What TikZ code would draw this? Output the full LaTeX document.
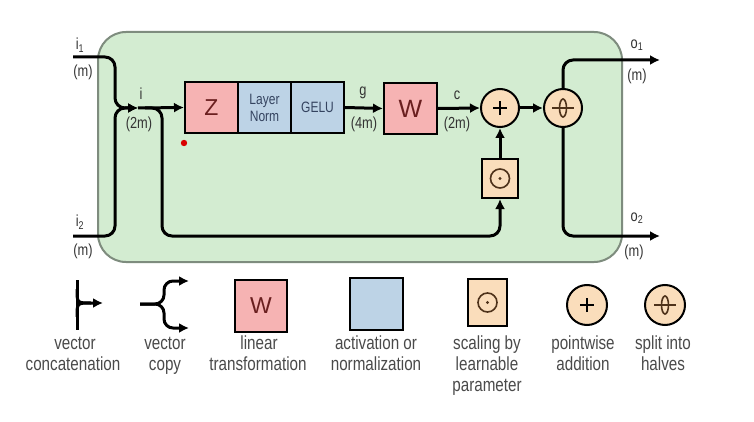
\documentclass[tikz,border=0pt]{standalone}
\usepackage{fontspec}
\setmainfont[FakeStretch=0.8]{Liberation Sans}
\newfontfamily\letterfont{Liberation Sans}
\usetikzlibrary{arrows.meta}
\definecolor{bggreen}{HTML}{D3ECD1}
\definecolor{bgborder}{HTML}{7E8C7E}
\definecolor{pinkfill}{HTML}{F6B3B3}
\definecolor{bluefill}{HTML}{BDD3E6}
\definecolor{beige}{HTML}{FADDBB}
\definecolor{lettred}{HTML}{6A1F1F}
\definecolor{lettblue}{HTML}{34435F}
\definecolor{symbrown}{HTML}{4E321A}
\definecolor{labgray}{HTML}{333333}
\definecolor{leggray}{HTML}{4A4A4A}
\begin{document}
\begin{tikzpicture}[x=1pt,y=-1pt,
  conn/.style={line width=3pt, draw=black, rounded corners=10pt},
  arr/.style={conn, -{Latex[length=10pt,width=10pt]}},
  boxstyle/.style={draw=black, line width=2pt, inner sep=0pt},
  linbox/.style={boxstyle, fill=pinkfill, minimum width=53pt, minimum height=51pt,
     text=lettred, font=\letterfont\fontsize{23}{25}\selectfont},
  actbox/.style={boxstyle, fill=bluefill, minimum width=53pt, minimum height=51pt,
     text=lettblue, align=center, font=\fontsize{15}{17}\selectfont},
  opcirc/.style={circle, draw=black, line width=2pt, fill=beige, minimum size=38pt, inner sep=0pt},
  scbox/.style={boxstyle, fill=beige, minimum width=36pt, minimum height=39pt},
  lab/.style={text=labgray, font=\fontsize{16}{17}\selectfont, inner sep=0pt},
  legtext/.style={text=leggray, font=\fontsize{19}{20}\selectfont, inner sep=0pt, anchor=base},
  symline/.style={draw=symbrown, line width=1.6pt}
]
\useasboundingbox (0,0) rectangle (754,422);
\fill[white] (0,0) rectangle (754,422);

% background block
\draw[fill=bggreen, draw=bgborder, line width=2pt, rounded corners=28pt]
  (98,32) rectangle (622,262);

% red dot
\fill[red!85!black] (184,143) circle (3.2pt);

% nodes
\node[linbox] (Z) at (211.5,107.5) {Z};
\node[actbox] (LN) at (264.5,107.5) {Layer\\Norm};
\node[actbox] (GELU) at (317.5,107.5) {GELU};
\node[linbox, font=\letterfont\fontsize{25}{27}\selectfont] (W) at (410.5,108.5) {W};
\node[opcirc] (plus) at (500,108) {};
\node[opcirc] (split) at (563,108) {};
\node[scbox] (scale) at (500,178.5) {};

% symbols inside
\draw[line width=2.6pt, draw=black] ([xshift=-7pt]plus.center) -- ([xshift=7pt]plus.center);
\draw[line width=2.6pt, draw=black] ([yshift=-7pt]plus.center) -- ([yshift=7pt]plus.center);
\draw[symline] ([xshift=-11pt]split.center) -- ([xshift=11pt]split.center);
\draw[symline] (split.center) ellipse [x radius=3.5pt, y radius=9pt];
\draw[symline] (scale.center) circle (9.5pt);
\fill[symbrown] (scale.center) circle (1.6pt);

% coordinates
\coordinate (i1) at (73,57);
\coordinate (i2) at (73,236);
\coordinate (jn) at (138,108);
\coordinate (br) at (162,108);
\coordinate (o1) at (660,60);
\coordinate (o2) at (660,236);

% connectors
\draw[arr] (i1) -- (115,57) -- (115,108) -- (jn);
\draw[arr] (i2) -- (115,236) -- (115,108) -- (jn);
\draw[arr] (jn) -- (Z.west);
\draw[arr] (145,108) -- (br) -- (162,236) -| (scale.south);
\draw[arr] (GELU.east) -- (W.west);
\draw[arr] (W.east) -- (plus.west);
\draw[arr] (plus.east) -- (split.west);
\draw[arr] (scale.north) -- (plus.south);
\draw[arr] (split.north) |- (o1);
\draw[arr] (split.south) |- (o2);

% labels
\node[lab] (li1) at (80,45) {i\textsubscript{1}};
\node[lab] (lm1) at (83,72) {(m)};
\node[lab] (li2) at (80,222) {i\textsubscript{2}};
\node[lab] (lm2) at (83,251) {(m)};
\node[lab] (li) at (141,94) {i};
\node[lab] (l2m) at (139,124) {(2m)};
\node[lab] (lg) at (363,93) {g};
\node[lab] (l4m) at (364,124) {(4m)};
\node[lab] (lc) at (457,95) {c};
\node[lab] (l2mb) at (457,124) {(2m)};
\node[lab] (lo1) at (637,45) {o\textsubscript{1}};
\node[lab] (lm3) at (637,76) {(m)};
\node[lab] (lo2) at (637,218) {o\textsubscript{2}};
\node[lab] (lm4) at (634,252) {(m)};

% ---------- legend ----------
% concatenation
\draw[line width=3pt] (77,280) -- (77,330);
\draw[line width=3pt, -{Latex[length=10pt,width=10pt]}] (77,289) .. controls (77,303) .. (91,303) -- (103,303);
\draw[line width=3pt] (77,317) .. controls (77,303) .. (91,303);
% copy
\draw[arr, rounded corners=9pt] (140,304) -| (164,281) -- (189,281);
\draw[arr, rounded corners=9pt] (140,304) -| (164,328) -- (189,328);
% boxes
\node[linbox, minimum width=52pt, minimum height=52pt] (lW) at (261,306) {W};
\node[actbox, minimum width=53pt, minimum height=52pt] (lB) at (376.5,304) {};
\node[scbox, minimum width=39pt, minimum height=47pt] (lS) at (487.5,302.5) {};
\draw[symline] (lS.center) circle (9.5pt);
\fill[symbrown] (lS.center) circle (1.6pt);
\node[opcirc, minimum size=40pt] (lP) at (587,305) {};
\draw[line width=2.6pt] ([xshift=-7pt]lP.center) -- ([xshift=7pt]lP.center);
\draw[line width=2.6pt] ([yshift=-7pt]lP.center) -- ([yshift=7pt]lP.center);
\node[opcirc, minimum size=40pt] (lH) at (665,305) {};
\draw[symline] ([xshift=-11pt]lH.center) -- ([xshift=11pt]lH.center);
\draw[symline] (lH.center) ellipse [x radius=3.5pt, y radius=9pt];

% legend texts
\node[legtext] (t1a) at (75,349) {vector};
\node[legtext] (t1b) at (73,370) {concatenation};
\node[legtext] (t2a) at (165,349) {vector};
\node[legtext] (t2b) at (165,370) {copy};
\node[legtext] (t3a) at (259,349) {linear};
\node[legtext] (t3b) at (258,370) {transformation};
\node[legtext] (t4a) at (376,349) {activation or};
\node[legtext] (t4b) at (376,370) {normalization};
\node[legtext] (t5a) at (487,349) {scaling by};
\node[legtext] (t5b) at (487,370) {learnable};
\node[legtext] (t5c) at (487,391) {parameter};
\node[legtext] (t6a) at (583,349) {pointwise};
\node[legtext] (t6b) at (583,370) {addition};
\node[legtext] (t7a) at (663,349) {split into};
\node[legtext] (t7b) at (663,370) {halves};
\end{tikzpicture}
\end{document}
